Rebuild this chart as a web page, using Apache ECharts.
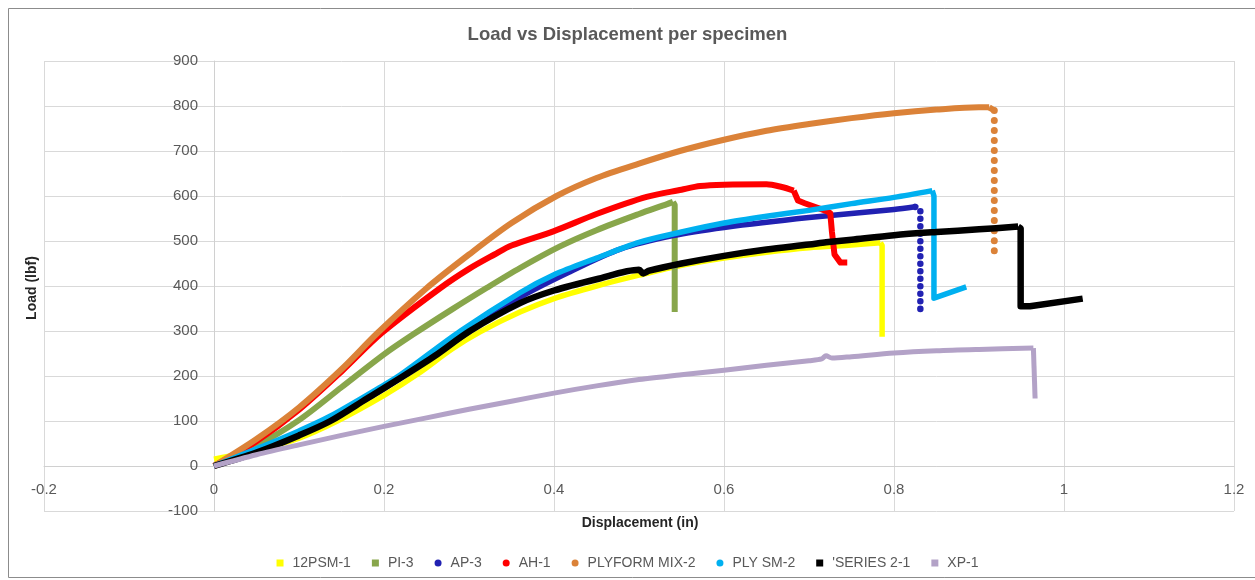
<!DOCTYPE html>
<html>
<head>
<meta charset="utf-8">
<script src="https://cdn.jsdelivr.net/npm/echarts@6/dist/echarts.min.js"></script>
<style>
html,body{margin:0;padding:0;background:#fff;overflow:hidden;}
#c{width:1255px;height:580px;}
</style>
</head>
<body>
<div id="c"></div>
<script>
// ---- data ----
const seriesNames = ['12PSM-1', 'PI-3', 'AP-3', 'AH-1', 'PLYFORM MIX-2', 'PLY SM-2', "'SERIES 2-1", 'XP-1'];
const xTicks = { min: -0.2, max: 1.2, step: 0.2 };
const yTicks = { min: -100, max: 900, step: 100 };

const psm12 = [[0,15],[0.05,35],[0.1,62],[0.145,100],[0.2,157],[0.24,205],[0.28,260],[0.313,298],[0.36,342],[0.4,372],[0.45,400],[0.5,424],[0.55,446],[0.6,462],[0.65,475],[0.7,485],[0.75,491],[0.784,496]];
const psm12Drop = [[0.784,496],[0.786,490],[0.786,287]];
const pi3 = [[0,0],[0.05,45],[0.1,102],[0.15,175],[0.2,248],[0.234,292],[0.28,348],[0.321,396],[0.36,440],[0.407,488],[0.45,524],[0.5,560],[0.533,582],[0.54,587]];
const pi3Drop = [[0.54,587],[0.542,580],[0.542,342]];
const ap3 = [[0,0],[0.05,32],[0.1,70],[0.15,118],[0.2,172],[0.25,235],[0.3,298],[0.36,375],[0.42,433],[0.478,482],[0.54,512],[0.6,530],[0.7,552],[0.8,570],[0.825,576]];
const ap3Drop = [[0.825,576],[0.831,570],[0.831,335]];
const ah1 = [[0,0],[0.05,55],[0.1,125],[0.15,210],[0.197,295],[0.266,395],[0.3,438],[0.33,470],[0.35,490],[0.4,522],[0.45,560],[0.509,598],[0.55,614],[0.572,622],[0.6,625],[0.65,626],[0.668,620],[0.682,612]];
const ah1Drop = [[0.682,612],[0.687,590],[0.695,584],[0.72,567],[0.725,562],[0.727,520],[0.73,470],[0.737,452],[0.745,452]];
const plyformMix2 = [[0,0],[0.05,60],[0.1,130],[0.15,215],[0.192,295],[0.25,395],[0.3,470],[0.35,540],[0.403,600],[0.45,640],[0.5,672],[0.548,700],[0.6,725],[0.65,745],[0.7,760],[0.75,773],[0.8,784],[0.85,792],[0.9,797],[0.912,797]];
const plyformMix2Drop = [[0.918,790],[0.918,460]];
const plySm2 = [[0,0],[0.05,38],[0.1,78],[0.136,110],[0.2,180],[0.219,202],[0.29,300],[0.36,385],[0.4,425],[0.45,462],[0.5,497],[0.55,520],[0.6,540],[0.65,555],[0.7,568],[0.75,583],[0.8,597],[0.845,612]];
const plySm2Drop = [[0.845,612],[0.847,600],[0.847,373],[0.885,398]];
const series21 = [[0,0],[0.05,30],[0.1,68],[0.137,100],[0.18,150],[0.223,200],[0.26,245],[0.301,300],[0.36,362],[0.4,390],[0.45,415],[0.5,436],[0.505,428],[0.512,434],[0.55,450],[0.6,467],[0.65,481],[0.7,492],[0.72,497],[0.75,503],[0.8,513],[0.85,520],[0.9,526],[0.946,532]];
const series21Drop = [[0.946,532],[0.949,528],[0.949,355],[0.96,355],[1.022,372]];
const xp1 = [[0,0],[0.05,25],[0.1,47],[0.15,68],[0.2,88],[0.25,107],[0.3,126],[0.35,144],[0.4,162],[0.45,178],[0.5,192],[0.55,203],[0.6,213],[0.65,224],[0.7,234],[0.715,238],[0.72,245],[0.727,240],[0.75,243],[0.8,251],[0.85,256],[0.9,259],[0.964,262]];
const xp1Drop = [[0.964,262],[0.966,262],[0.966,150]];

const colors = ['#FFFF00', '#88A64B', '#2121B2', '#FF0000', '#DB8238', '#00B0F0', '#000000', '#B3A2C7'];
const icons = ['rect', 'rect', 'circle', 'circle', 'circle', 'circle', 'rect', 'rect'];

// ---- chart ----
const chart = echarts.init(document.getElementById('c'), null, { renderer: 'canvas' });

function curve(name, data, color, width) {
  return {
    name: name, type: 'line', data: data, symbol: 'none', smooth: 0.3,
    animation: false, color: color,
    lineStyle: { color: color, width: width, join: 'round' },
    emphasis: { disabled: true }
  };
}
function tail(name, data, color, width) {
  return {
    name: name, type: 'line', data: data, symbol: 'none', smooth: false,
    animation: false, color: color,
    lineStyle: { color: color, width: width, join: 'round' },
    emphasis: { disabled: true }
  };
}
function dots(name, data, color, width, gap) {
  return {
    name: name, type: 'line', data: data, symbol: 'none', animation: false, color: color,
    lineStyle: { color: color, width: width, type: [0.01, gap], cap: 'round' },
    emphasis: { disabled: true }
  };
}

const font = 'Liberation Sans, Arial, sans-serif';
const labelColor = '#595959';

const option = {
  backgroundColor: '#ffffff',
  animation: false,
  title: {
    text: 'Load vs Displacement per specimen',
    left: 'center', top: 20,
    textStyle: { fontFamily: font, fontSize: 18.5, fontWeight: 'bold', color: '#595959' }
  },
  legend: {
    data: seriesNames.map((n, i) => ({ name: n, icon: icons[i] })),
    left: 'center', top: 551,
    itemWidth: 7, itemHeight: 7, itemGap: 21,
    textStyle: { fontFamily: font, fontSize: 14, color: labelColor, padding: [0, 0, 0, 4] }
  },
  grid: { left: 44, right: 21, top: 61, bottom: 69, containLabel: false, outerBoundsMode: 'none' },
  xAxis: {
    type: 'value', min: xTicks.min, max: xTicks.max, interval: xTicks.step,
    axisLine: { show: true, onZero: false, lineStyle: { color: '#D0D0D0', width: 1 } },
    axisTick: { show: false },
    axisLabel: { margin: 16, fontFamily: font, fontSize: 15, color: labelColor,
      formatter: v => String(Math.round(v * 10) / 10) },
    splitLine: { show: true, lineStyle: { color: '#D9D9D9', width: 1 } }
  },
  yAxis: {
    type: 'value', min: yTicks.min, max: yTicks.max, interval: yTicks.step,
    axisLine: { show: true, onZero: false, lineStyle: { color: '#D0D0D0', width: 1 } },
    axisTick: { show: false },
    axisLabel: { margin: 16, fontFamily: font, fontSize: 15, color: labelColor },
    splitLine: { show: true, lineStyle: { color: '#D9D9D9', width: 1 } }
  },
  graphic: [
    { type: 'rect', shape: { x: 8.5, y: 8.5, width: 1260, height: 569 }, style: { fill: 'none', stroke: '#8C8C8C', lineWidth: 1 }, silent: true },
    { type: 'text', x: 640, y: 523, style: { text: 'Displacement (in)', font: 'bold 14px ' + font, fill: '#262626', align: 'center', verticalAlign: 'middle' } },
    { type: 'text', x: 32, y: 288, rotation: Math.PI / 2, style: { text: 'Load (lbf)', font: 'bold 14px ' + font, fill: '#262626', align: 'center', verticalAlign: 'middle' } }
  ],
  series: [
    curve(seriesNames[0], psm12, colors[0], 5.5),
    tail(seriesNames[0], psm12Drop, colors[0], 5.5),
    curve(seriesNames[1], pi3, colors[1], 6),
    tail(seriesNames[1], pi3Drop, colors[1], 6),
    curve(seriesNames[2], ap3, colors[2], 5.5),
    dots(seriesNames[2], ap3Drop, colors[2], 6.5, 7.5),
    curve(seriesNames[3], ah1, colors[3], 6),
    tail(seriesNames[3], ah1Drop, colors[3], 6),
    curve(seriesNames[4], plyformMix2, colors[4], 6),
    tail(seriesNames[4], [plyformMix2[plyformMix2.length - 1], plyformMix2Drop[0]], colors[4], 6),
    dots(seriesNames[4], plyformMix2Drop, colors[4], 7, 10),
    curve(seriesNames[5], plySm2, colors[5], 5.5),
    tail(seriesNames[5], plySm2Drop, colors[5], 5.5),
    curve(seriesNames[6], series21, colors[6], 6.5),
    tail(seriesNames[6], series21Drop, colors[6], 6.5),
    curve(seriesNames[7], xp1, colors[7], 5),
    tail(seriesNames[7], xp1Drop, colors[7], 5)
  ]
};
chart.setOption(option);

// place the axes where the other axis is zero (as in the reference)
const corner = chart.convertToPixel({ gridIndex: 0 }, [xTicks.min, yTicks.min]);
const origin = chart.convertToPixel({ gridIndex: 0 }, [0, 0]);
chart.setOption({
  xAxis: { offset: -(corner[1] - origin[1]) },
  yAxis: { offset: -(origin[0] - corner[0]) }
});
</script>
</body>
</html>
